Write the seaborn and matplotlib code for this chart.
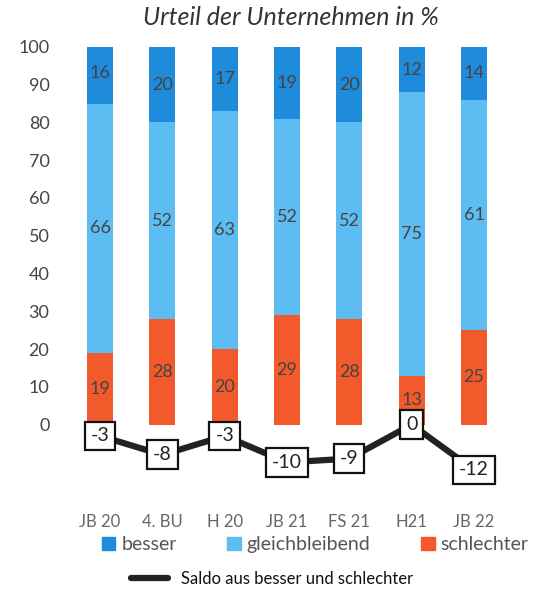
import numpy as np
import pandas as pd
import matplotlib
import seaborn as sns
import matplotlib.pyplot as plt
from matplotlib.patches import Patch
from matplotlib.lines import Line2D

matplotlib.use("Agg")

categories = ["JB 20", "4. BU", "H 20", "JB 21", "FS 21", "H21", "JB 22"]
besser = [16, 20, 17, 19, 20, 12, 14]
gleich = [66, 52, 63, 52, 52, 75, 61]
schlechter = [19, 28, 20, 29, 28, 13, 25]
saldo = [-3, -8, -3, -10, -9, 0, -12]

colors = {"besser": "#1F8BDB", "gleichbleibend": "#5DBCF2", "schlechter": "#F2592B"}

df = pd.DataFrame({"cat": categories, "besser": besser,
                   "gleich": gleich, "schlechter": schlechter, "saldo": saldo})
df["pos"] = np.arange(len(df))

sns.set_style("white")
plt.rcParams["font.family"] = ["Lato", "DejaVu Sans"]

fig = plt.figure(figsize=(5.34, 5.94), dpi=100)
ax = fig.add_axes([0.129, 0.158, 0.817, 0.763])

w = 0.42
sns.barplot(data=df, x="cat", y="schlechter", color=colors["schlechter"],
            width=w, saturation=1, linewidth=0, ax=ax)
sns.barplot(data=df, x="cat", y="gleich", color=colors["gleichbleibend"],
            width=w, saturation=1, linewidth=0, bottom=df["schlechter"], ax=ax)
sns.barplot(data=df, x="cat", y="besser", color=colors["besser"],
            width=w, saturation=1, linewidth=0,
            bottom=df["schlechter"] + df["gleich"], ax=ax)

# segment labels
for i, row in df.iterrows():
    lo = 0
    for v in [row["schlechter"], row["gleich"], row["besser"]]:
        ax.text(i, lo + v / 2, str(v), ha="center", va="center",
                fontsize=13, color="#444444")
        lo += v

sns.lineplot(data=df, x="pos", y="saldo", color="#222222", linewidth=4.5,
             sort=False, ax=ax, legend=False)
for i, row in df.iterrows():
    ax.text(i, row["saldo"], str(row["saldo"]), ha="center", va="center",
            fontsize=14, color="#222222", zorder=5,
            bbox=dict(boxstyle="square,pad=0.3", fc="white", ec="#111111", lw=1.6))

ax.set_ylim(-20, 100)
ax.set_xlim(-0.5, len(categories) - 0.5)
ax.set_yticks(range(0, 101, 10))
ax.set_xticks(range(len(categories)))
ax.set_xticklabels(categories)
ax.tick_params(axis="y", labelsize=13, labelcolor="#444444", length=0, pad=14)
ax.tick_params(axis="x", labelsize=12, labelcolor="#666666", length=0, pad=10)
ax.set_xlabel("")
ax.set_ylabel("")
sns.despine(ax=ax, left=True, bottom=True)

fig.suptitle("Urteil der Unternehmen in %", x=0.545, y=0.99, fontsize=18,
             style="italic", color="#333333")

handles = [Patch(color=colors[k], label=k) for k in colors]
fig.legend(handles=handles, loc="center", bbox_to_anchor=(0.59, 0.083), ncol=3,
           frameon=False, fontsize=14, handlelength=0.7, handleheight=0.7,
           handletextpad=0.3, columnspacing=2.6, labelcolor="#555555")
fig.legend(handles=[Line2D([], [], color="#222222", lw=4.5,
                           label="Saldo aus besser und schlechter")],
           loc="center", bbox_to_anchor=(0.51, 0.026), frameon=False,
           fontsize=12, handlelength=2.2, labelcolor="#111111")

fig.savefig("out.png", dpi=100)
